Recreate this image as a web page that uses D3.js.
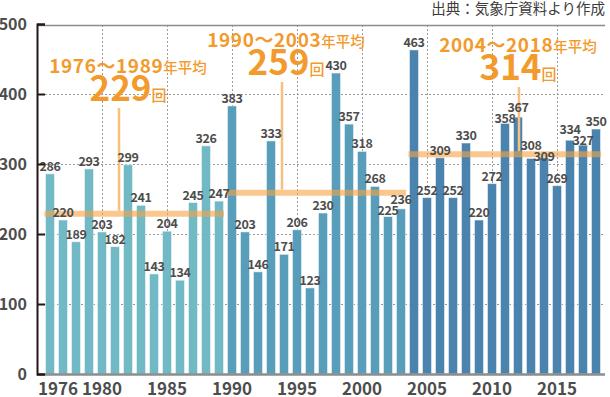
<!DOCTYPE html>
<html>
<head>
<meta charset="utf-8">
<script src="https://cdn.jsdelivr.net/npm/d3@7"></script>
<style>
body { margin: 0; background: #fff; }
svg { display: block; font-family: "Noto Sans CJK JP", "Noto Sans", sans-serif; }
</style>
</head>
<body>
<svg class="chart" width="610" height="397"></svg>
<script>
// data
var years = [1976,1977,1978,1979,1980,1981,1982,1983,1984,1985,1986,1987,1988,1989,
  1990,1991,1992,1993,1994,1995,1996,1997,1998,1999,2000,2001,2002,2003,
  2004,2005,2006,2007,2008,2009,2010,2011,2012,2013,2014,2015,2016,2017,2018];
var counts = [286,220,189,293,203,182,299,241,143,204,134,245,326,247,
  383,203,146,333,171,206,123,230,430,357,318,268,225,236,
  463,252,309,252,330,220,272,358,367,308,309,269,334,327,350];
var periodStart = [1976, 1990, 2004];
var periodEnd = [1989, 2003, 2018];
var periodAvg = [229, 259, 314];
var yTicks = [0, 100, 200, 300, 400, 500];
var yearTicks = [1976, 1980, 1985, 1990, 1995, 2000, 2005, 2010, 2015];
var sourceText = "出典：気象庁資料より作成";

// styles / layout
var barColors = ["#72b9c6", "#589dba", "#4a83ae"];
var orange = "#f39a2c";
var plotLeft = 37, plotRight = 605, plotTop = 25, plotBottom = 374;
// annotation anchors: centre x of label, label baseline, connector x
var annoLayout = [
  {cx: 128, y: 73, lineX: 119},
  {cx: 286, y: 47, lineX: 282},
  {cx: 518, y: 52, lineX: 519}
];

var svg = d3.select("svg.chart");

var x = d3.scaleBand().domain(years).range([43.5, 602.5]).paddingInner(0.3).paddingOuter(0.15);
var y = d3.scaleLinear().domain([0, 500]).range([plotBottom, plotTop - 1]);

function periodOf(yr) {
  for (var i = 0; i < periodStart.length; i++) {
    if (yr >= periodStart[i] && yr <= periodEnd[i]) return i;
  }
  return 0;
}

// horizontal dotted grid
svg.append("g").selectAll("line")
  .data(yTicks.filter(function(d){ return d > 0 && d < 500; }))
  .enter().append("line")
  .attr("x1", plotLeft).attr("x2", plotRight)
  .attr("y1", function(d){ return Math.round(y(d)) + 0.5; })
  .attr("y2", function(d){ return Math.round(y(d)) + 0.5; })
  .attr("stroke", "#9a9a9a").attr("stroke-width", 1)
  .attr("stroke-dasharray", "2,2");

// vertical dotted grid
svg.append("g").selectAll("line")
  .data(yearTicks.slice(1))
  .enter().append("line")
  .attr("x1", function(d){ return Math.round(x(d) + x.bandwidth()/2) + 0.5; })
  .attr("x2", function(d){ return Math.round(x(d) + x.bandwidth()/2) + 0.5; })
  .attr("y1", plotTop).attr("y2", plotBottom)
  .attr("stroke", "#9a9a9a").attr("stroke-width", 1)
  .attr("stroke-dasharray", "2,2");

// bars
svg.append("g").selectAll("rect")
  .data(counts)
  .enter().append("rect")
  .attr("x", function(d,i){ return x(years[i]); })
  .attr("y", function(d){ return y(d); })
  .attr("width", x.bandwidth())
  .attr("height", function(d){ return plotBottom - y(d); })
  .attr("fill", function(d,i){ return barColors[periodOf(years[i])]; })
  .attr("stroke", "rgba(255,255,255,0.55)")
  .attr("stroke-width", 1);

// average bands
svg.append("g").selectAll("line")
  .data(periodAvg)
  .enter().append("line")
  .attr("x1", function(d,i){ return x(periodStart[i]) - 1; })
  .attr("x2", function(d,i){ return x(periodEnd[i]) + x.bandwidth() + 0.5; })
  .attr("y1", function(d){ return y(d); })
  .attr("y2", function(d){ return y(d); })
  .attr("stroke", "#f7a445").attr("stroke-opacity", 0.6)
  .attr("stroke-width", 6);

// connectors from annotation to band
svg.append("g").selectAll("line")
  .data(periodAvg)
  .enter().append("line")
  .attr("x1", function(d,i){ return annoLayout[i].lineX; })
  .attr("x2", function(d,i){ return annoLayout[i].lineX; })
  .attr("y1", function(d,i){ return annoLayout[i].y + 35; })
  .attr("y2", function(d){ return y(d) - 3; })
  .attr("stroke", "#f8c07c").attr("stroke-width", 2.5);

// value labels, with simple de-overlap between neighbours
var labelY = counts.map(function(d){ return y(d) - 3; });
for (var i = 0; i < counts.length - 1; i++) {
  var a = labelY[i], b = labelY[i+1];
  if (Math.abs(a - b) < 11) {
    var mid = (a + b) / 2;
    var upLeft = counts[i] > counts[i+1] || Math.abs(counts[i] - counts[i+1]) < 3;
    labelY[i] = upLeft ? mid - 5.5 : mid + 5.5;
    labelY[i+1] = upLeft ? mid + 5.5 : mid - 5.5;
  }
}
svg.append("g").selectAll("text")
  .data(counts)
  .enter().append("text")
  .attr("x", function(d,i){ return x(years[i]) + x.bandwidth()/2; })
  .attr("y", function(d,i){ return labelY[i]; })
  .attr("text-anchor", "middle")
  .attr("font-size", "12.5px").attr("font-weight", "bold")
  .attr("letter-spacing", "-0.3px")
  .attr("fill", "#4d4d4d")
  .text(function(d){ return d; });

// axes frame
svg.append("line").attr("x1", plotLeft).attr("x2", plotRight).attr("y1", plotTop + 0.5).attr("y2", plotTop + 0.5)
  .attr("stroke", "#8c8c8c").attr("stroke-width", 1.5);
svg.append("line").attr("x1", plotLeft).attr("x2", plotRight).attr("y1", plotBottom + 0.5).attr("y2", plotBottom + 0.5)
  .attr("stroke", "#8c8c8c").attr("stroke-width", 2.5);

// y axis through d3.axisLeft, inner ticks
var yAxis = svg.append("g")
  .attr("transform", "translate(" + plotLeft + ",0)")
  .call(d3.axisLeft(y).tickValues(yTicks).tickSize(-8).tickPadding(10));
yAxis.select(".domain").attr("stroke", "#231815").attr("stroke-width", 2);
yAxis.selectAll(".tick line").attr("stroke", "#231815").attr("stroke-width", 2);
yAxis.selectAll(".tick text")
  .attr("font-family", "'Noto Sans CJK JP', sans-serif")
  .attr("font-size", "16px").attr("font-weight", "bold").attr("fill", "#4d4d4d");

// x axis labels
var xAxis = svg.append("g")
  .attr("transform", "translate(0," + plotBottom + ")")
  .call(d3.axisBottom(x).tickValues(yearTicks).tickSize(0).tickPadding(9));
xAxis.select(".domain").remove();
xAxis.selectAll(".tick text")
  .attr("font-family", "'Noto Sans CJK JP', sans-serif")
  .attr("font-size", "17px").attr("font-weight", "bold").attr("fill", "#4d4d4d")
  .attr("text-anchor", function(d){ return d === years[0] ? "start" : "middle"; })
  .attr("dx", function(d){ return d === years[0] ? -(x(d) + x.bandwidth()/2 - plotLeft - 1) : 0; });

// annotations
var anno = svg.append("g").selectAll("g")
  .data(periodAvg)
  .enter().append("g");

var head = anno.append("text")
  .attr("x", function(d,i){ return annoLayout[i].cx; })
  .attr("y", function(d,i){ return annoLayout[i].y; })
  .attr("text-anchor", "middle")
  .attr("fill", orange);
head.append("tspan")
  .attr("font-size", "19px").attr("font-weight", "bold").attr("letter-spacing", "0.6px")
  .text(function(d,i){ return periodStart[i] + "～" + periodEnd[i]; });
head.append("tspan")
  .attr("font-size", "14.5px").attr("font-weight", "500")
  .text("年平均");

var big = anno.append("text")
  .attr("x", function(d,i){ return annoLayout[i].cx; })
  .attr("y", function(d,i){ return annoLayout[i].y + 28; })
  .attr("text-anchor", "middle")
  .attr("fill", orange);
big.append("tspan")
  .attr("font-size", "35px").attr("font-weight", "bold")
  .text(function(d){ return d; });
big.append("tspan")
  .attr("font-size", "15px").attr("font-weight", "500")
  .text("回");

// source
svg.append("text")
  .attr("x", plotRight).attr("y", 14)
  .attr("text-anchor", "end")
  .attr("font-size", "14.5px").attr("fill", "#3c3c3c")
  .text(sourceText);
</script>
</body>
</html>
